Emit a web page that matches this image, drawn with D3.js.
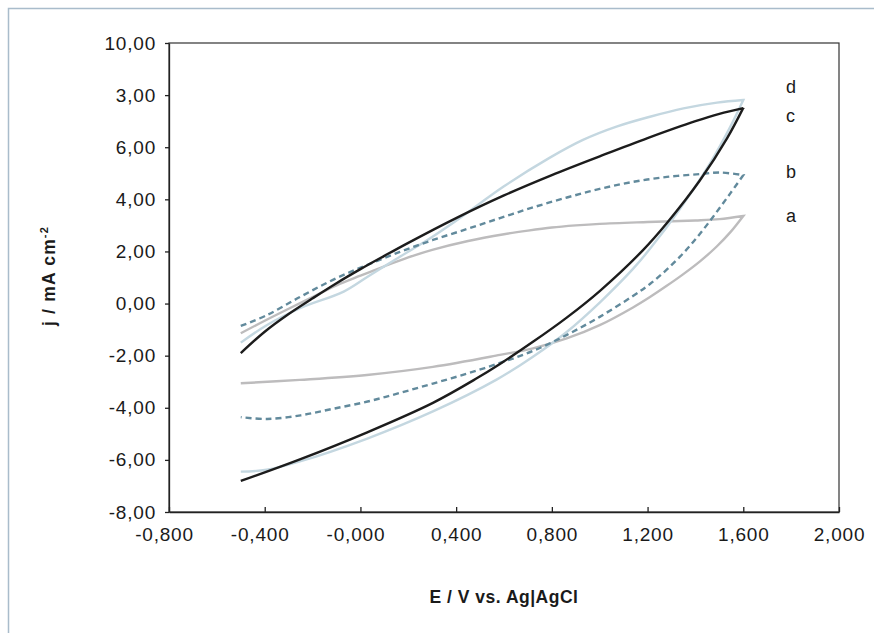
<!DOCTYPE html>
<html>
<head>
<meta charset="utf-8">
<script src="https://cdn.jsdelivr.net/npm/d3@7"></script>
<style>
  html, body { margin: 0; padding: 0; background: #fff; }
  svg { display: block; font-family: "Liberation Sans", Arial, Helvetica, sans-serif; }
</style>
</head>
<body>
<svg id="chart" width="874" height="633"></svg>
<script>
// ---- Data (E / V, j / mA cm^-2) ----
const xTickValues = [-0.8, -0.4, 0.0, 0.4, 0.8, 1.2, 1.6, 2.0];
const xTickLabels = ["-0,800", "-0,400", "-0,000", "0,400", "0,800", "1,200", "1,600", "2,000"];
const yTickValues = [-8, -6, -4, -2, 0, 2, 4, 6, 8, 10];
const yTickLabels = ["-8,00", "-6,00", "-4,00", "-2,00", "0,00", "2,00", "4,00", "6,00", "3,00", "10,00"];
const seriesNames = ["a", "b", "c", "d"];

const aForward = [[-0.5,-1.14],[-0.4,-0.66],[-0.3,-0.2],[-0.2,0.25],[-0.1,0.7],[0.0,1.07],[0.1,1.43],[0.2,1.77],[0.3,2.06],[0.45,2.4],[0.6,2.66],[0.7,2.8],[0.8,2.92],[0.9,3.0],[1.0,3.06],[1.2,3.13],[1.4,3.19],[1.5,3.24],[1.6,3.36]];
const aReverse = [[1.6,3.36],[1.549,2.77],[1.489,2.19],[1.419,1.62],[1.348,1.12],[1.28,0.68],[1.21,0.25],[1.139,-0.15],[1.0,-0.83],[0.862,-1.34],[0.721,-1.72],[0.583,-1.97],[0.303,-2.43],[0.027,-2.74],[-0.253,-2.93],[-0.5,-3.06]];

const bForward = [[-0.5,-0.86],[-0.39,-0.44],[-0.253,0.25],[-0.115,0.91],[0.027,1.48],[0.165,1.98],[0.303,2.44],[0.445,2.86],[0.583,3.28],[0.721,3.69],[0.863,4.07],[1.0,4.4],[1.139,4.67],[1.281,4.86],[1.419,4.97],[1.503,5.03],[1.6,4.93]];
const bReverse = [[1.6,4.93],[1.545,4.22],[1.482,3.43],[1.419,2.68],[1.356,2.0],[1.281,1.31],[1.21,0.75],[1.139,0.29],[1.0,-0.51],[0.863,-1.2],[0.721,-1.82],[0.583,-2.28],[0.445,-2.69],[0.303,-3.07],[0.165,-3.43],[0.03,-3.76],[-0.115,-4.04],[-0.25,-4.29],[-0.39,-4.43],[-0.5,-4.36]];

const cForward = [[-0.5,-1.9],[-0.4,-1.08],[-0.3,-0.4],[-0.2,0.2],[-0.1,0.78],[0.0,1.32],[0.1,1.83],[0.2,2.33],[0.4,3.28],[0.6,4.15],[0.8,4.93],[1.0,5.65],[1.2,6.35],[1.4,7.0],[1.5,7.28],[1.6,7.5]];
const cReverse = [[1.6,7.51],[1.532,6.34],[1.419,4.73],[1.281,3.09],[1.181,2.05],[1.0,0.48],[0.862,-0.54],[0.721,-1.47],[0.583,-2.32],[0.486,-2.87],[0.303,-3.81],[0.026,-4.95],[-0.253,-5.98],[-0.5,-6.81]];

const dForward = [[-0.5,-1.5],[-0.39,-0.82],[-0.25,-0.17],[-0.07,0.46],[0.03,1.03],[0.165,1.8],[0.28,2.44],[0.4,3.18],[0.6,4.5],[0.79,5.59],[0.93,6.28],[1.07,6.79],[1.21,7.17],[1.35,7.49],[1.49,7.71],[1.6,7.81]];
const dReverse = [[1.6,7.81],[1.545,6.77],[1.461,5.38],[1.335,3.63],[1.21,2.1],[1.139,1.33],[1.0,0.04],[0.862,-1.09],[0.721,-2.04],[0.569,-2.92],[0.303,-4.14],[0.026,-5.19],[-0.253,-6.06],[-0.392,-6.38],[-0.5,-6.45]];

// ---- Layout ----
const svg = d3.select("#chart");
const mLeft = 169, mRight = 839, mTop = 43, mBottom = 512;
const x = d3.scaleLinear().domain([-0.8, 2.0]).range([mLeft, mRight]);
const y = d3.scaleLinear().domain([-8, 10]).range([mBottom, mTop]);

// outer frame
svg.append("rect").attr("x", 8.5).attr("y", 8.5).attr("width", 900).attr("height", 700)
  .attr("fill", "none").attr("stroke", "#a9bccb").attr("stroke-width", 1.5);

// plot border
svg.append("rect").attr("x", mLeft).attr("y", mTop).attr("width", mRight - mLeft).attr("height", mBottom - mTop)
  .attr("fill", "none").attr("stroke", "#333").attr("stroke-width", 1.2);

// axes
const yAxis = d3.axisLeft(y).tickValues(yTickValues)
  .tickFormat((d, i) => yTickLabels[i]).tickSizeInner(4).tickSizeOuter(0).tickPadding(9);
const gy = svg.append("g").attr("transform", `translate(${mLeft},0)`).call(yAxis);

const xAxis = d3.axisBottom(x).tickValues(xTickValues)
  .tickFormat((d, i) => xTickLabels[i]).tickSizeInner(-5).tickSizeOuter(0).tickPadding(16);
const gx = svg.append("g").attr("transform", `translate(0,${mBottom})`).call(xAxis);

[gx, gy].forEach(g => {
  g.select(".domain").attr("stroke", "#222").attr("stroke-width", 1.3);
  g.selectAll(".tick line").attr("stroke", "#222").attr("stroke-width", 1.3);
  g.selectAll(".tick text").attr("fill", "#1a1a1a").attr("font-size", 19)
    .attr("letter-spacing", "0.8px")
    .attr("font-family", '"Liberation Sans", Arial, sans-serif');
});
gx.selectAll(".tick text").attr("dx", (d, i) => xTickLabels[i].startsWith("-") ? -5 : 0);

// curves
const lineGen = d3.line().x(d => x(d[0])).y(d => y(d[1])).curve(d3.curveCatmullRom.alpha(0.5));
function loopPath(fw, rv) {
  return lineGen(fw) + lineGen(rv).replace(/^M/, "L");
}
const series = [
  { name: "a", fw: aForward, rv: aReverse, color: "#bdbcbd", dash: null, w: 2.4 },
  { name: "d", fw: dForward, rv: dReverse, color: "#c4d7e0", dash: null, w: 2.4 },
  { name: "b", fw: bForward, rv: bReverse, color: "#628a9c", dash: "6,4", w: 2.4 },
  { name: "c", fw: cForward, rv: cReverse, color: "#1c1c1c", dash: null, w: 2.4 }
];
svg.append("g").selectAll("path").data(series).join("path")
  .attr("d", s => loopPath(s.fw, s.rv))
  .attr("fill", "none")
  .attr("stroke", s => s.color)
  .attr("stroke-width", s => s.w)
  .attr("stroke-dasharray", s => s.dash)
  .attr("stroke-linejoin", "miter");

// series labels
const labelY = { a: 222, b: 178, c: 122, d: 93 };
svg.append("g").selectAll("text").data(seriesNames).join("text")
  .attr("x", 786).attr("y", d => labelY[d])
  .attr("font-size", 18).attr("fill", "#1a1a1a")
  .text(d => d);

// axis titles
svg.append("text").attr("x", 504).attr("y", 602.5).attr("text-anchor", "middle")
  .attr("font-size", 17.5).attr("font-weight", "bold").attr("letter-spacing", "0.5px")
  .attr("fill", "#1a1a1a").text("E / V vs. Ag|AgCl");

const yt = svg.append("text").attr("transform", "translate(55,276) rotate(-90)")
  .attr("text-anchor", "middle").attr("font-size", 17.5).attr("font-weight", "bold")
  .attr("letter-spacing", "1.2px").attr("fill", "#1a1a1a");
yt.append("tspan").text("j / mA cm");
yt.append("tspan").attr("font-size", 11).attr("dy", -7).text("-2");
</script>
</body>
</html>
